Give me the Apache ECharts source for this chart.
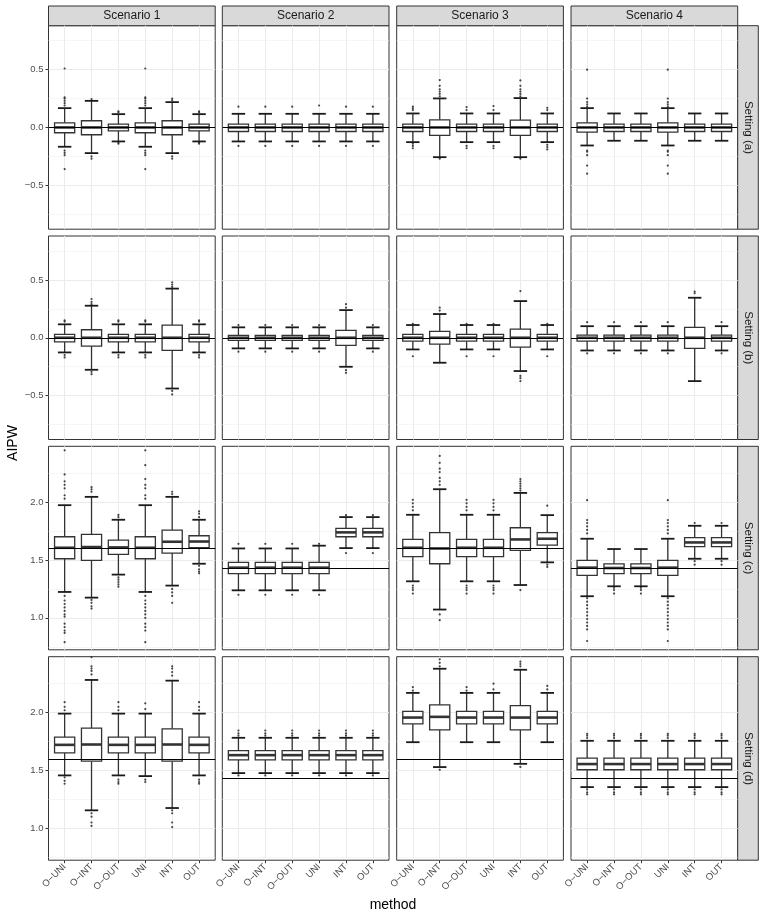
<!DOCTYPE html>
<html>
<head>
<meta charset="utf-8">
<script src="https://cdn.jsdelivr.net/npm/echarts@6/dist/echarts.min.js"></script>
<style>
html, body { margin: 0; padding: 0; background: #fff; }
#chart { width: 766px; height: 919px; }
</style>
</head>
<body>
<div id="chart"></div>
<script>
const scenarios = ['Scenario 1', 'Scenario 2', 'Scenario 3', 'Scenario 4']
const settings = ['Setting (a)', 'Setting (b)', 'Setting (c)', 'Setting (d)']
const methods = ['O\u2212UNI', 'O\u2212INT', 'O\u2212OUT', 'UNI', 'INT', 'OUT']
// true value per setting (row) and scenario (column)
const truth = [
  [0, 0, 0, 0],
  [0, 0, 0, 0],
  [1.6, 1.43, 1.6, 1.43],
  [1.6, 1.43, 1.6, 1.43]
]
const yTicksAB = [-0.5, 0, 0.5]
const yTicksCD = [1.0, 1.5, 2.0]

// [scenario][method] = [lower whisker, Q1, median, Q3, upper whisker]
const statsA = [
  [[-0.167, -0.046, 0, 0.040, 0.167], [-0.222, -0.063, 0, 0.058, 0.23], [-0.121, -0.029, 0, 0.029, 0.115],
   [-0.167, -0.046, 0, 0.040, 0.167], [-0.222, -0.063, 0, 0.058, 0.219], [-0.121, -0.029, 0, 0.029, 0.115]],
  [[-0.121, -0.035, 0, 0.029, 0.118], [-0.121, -0.035, 0, 0.029, 0.118], [-0.121, -0.035, 0, 0.029, 0.118],
   [-0.121, -0.035, 0, 0.029, 0.118], [-0.121, -0.035, 0, 0.029, 0.118], [-0.121, -0.035, 0, 0.029, 0.118]],
  [[-0.127, -0.035, 0, 0.029, 0.121], [-0.257, -0.069, 0, 0.066, 0.251], [-0.127, -0.035, 0, 0.029, 0.121],
   [-0.127, -0.035, 0, 0.029, 0.121], [-0.257, -0.069, 0, 0.064, 0.254], [-0.127, -0.035, 0, 0.029, 0.121]],
  [[-0.156, -0.040, 0, 0.040, 0.167], [-0.115, -0.035, 0, 0.029, 0.121], [-0.115, -0.035, 0, 0.029, 0.121],
   [-0.156, -0.040, 0, 0.040, 0.167], [-0.115, -0.035, 0, 0.029, 0.121], [-0.115, -0.035, 0, 0.029, 0.121]]
]
const outA = [
  [[0.19, 0.21, 0.23, 0.25, 0.26, 0.51, -0.2, -0.22, -0.24, -0.36], [0.245, -0.25, -0.27], [0.13, 0.14, -0.13, -0.14],
   [0.19, 0.21, 0.23, 0.25, 0.26, 0.51, -0.2, -0.22, -0.24, -0.36], [0.235, 0.25, -0.25, -0.27], [0.13, 0.14, -0.13, -0.14]],
  [[0.18, -0.16], [0.18, -0.16], [0.18, -0.16], [0.19, -0.16], [0.18, -0.16], [0.18, -0.16]],
  [[0.15, 0.165, 0.18, -0.14, -0.16, -0.18], [0.27, 0.29, 0.31, 0.33, 0.36, 0.41, -0.27], [0.15, 0.176, -0.16, -0.18],
   [0.15, 0.185, -0.16, -0.18], [0.27, 0.29, 0.31, 0.33, 0.36, 0.407, -0.27], [0.15, 0.17, -0.15, -0.17, -0.19]],
  [[0.18, 0.2, 0.22, 0.25, 0.5, -0.2, -0.21, -0.24, -0.33, -0.4], [], [],
   [0.18, 0.2, 0.22, 0.25, 0.5, -0.2, -0.21, -0.24, -0.33, -0.4], [], []]
]

const statsB = [
  [[-0.127, -0.035, 0, 0.029, 0.116], [-0.277, -0.072, 0, 0.069, 0.277], [-0.127, -0.035, 0, 0.029, 0.116],
   [-0.127, -0.035, 0, 0.029, 0.116], [-0.439, -0.11, 0, 0.11, 0.425], [-0.127, -0.035, 0, 0.029, 0.116]],
  [[-0.092, -0.023, 0, 0.02, 0.09], [-0.092, -0.023, 0, 0.02, 0.09], [-0.092, -0.023, 0, 0.02, 0.09],
   [-0.092, -0.023, 0, 0.02, 0.09], [-0.251, -0.066, 0, 0.063, 0.239], [-0.092, -0.023, 0, 0.02, 0.09]],
  [[-0.101, -0.029, 0, 0.029, 0.11], [-0.216, -0.055, 0, 0.055, 0.205], [-0.101, -0.029, 0, 0.029, 0.11],
   [-0.101, -0.029, 0, 0.029, 0.11], [-0.288, -0.081, 0, 0.075, 0.317], [-0.101, -0.029, 0, 0.029, 0.11]],
  [[-0.11, -0.029, 0, 0.023, 0.1], [-0.11, -0.029, 0, 0.023, 0.1], [-0.11, -0.029, 0, 0.023, 0.1],
   [-0.11, -0.029, 0, 0.023, 0.1], [-0.375, -0.092, 0, 0.089, 0.346], [-0.11, -0.029, 0, 0.023, 0.1]]
]
const outB = [
  [[0.14, 0.15, -0.15, -0.17], [0.29, 0.31, 0.335, -0.295, -0.315], [0.14, 0.15, -0.15, -0.17],
   [0.14, 0.15, -0.15, -0.17], [0.44, 0.46, 0.48, -0.46, -0.49], [0.14, 0.15, -0.15, -0.17]],
  [[0.11, -0.12], [0.11, -0.12], [0.11, -0.12], [0.11, -0.12], [0.26, 0.29, -0.28, -0.303], [0.11, -0.12]],
  [[0.12, -0.16], [0.235, 0.26], [0.12, -0.16], [0.12, -0.16], [0.404, -0.33, -0.35, -0.375], [0.12, -0.16]],
  [[0.135, -0.135], [0.135, -0.135], [0.135, -0.135], [0.135, -0.135], [0.385, 0.4], [0.135, -0.135]]
]

const statsC = [
  [[1.224, 1.511, 1.606, 1.701, 1.974], [1.175, 1.497, 1.612, 1.721, 2.046], [1.374, 1.549, 1.609, 1.672, 1.848],
   [1.224, 1.511, 1.606, 1.701, 1.974], [1.279, 1.56, 1.658, 1.759, 2.046], [1.468, 1.606, 1.66, 1.71, 1.848]],
  [[1.238, 1.382, 1.434, 1.48, 1.6], [1.238, 1.382, 1.434, 1.48, 1.6], [1.238, 1.382, 1.434, 1.48, 1.6],
   [1.238, 1.382, 1.434, 1.48, 1.624], [1.603, 1.701, 1.739, 1.773, 1.871], [1.603, 1.701, 1.739, 1.773, 1.871]],
  [[1.316, 1.529, 1.606, 1.678, 1.891], [1.072, 1.468, 1.6, 1.736, 2.112], [1.316, 1.529, 1.606, 1.678, 1.891],
   [1.316, 1.529, 1.606, 1.678, 1.891], [1.284, 1.583, 1.678, 1.779, 2.08], [1.48, 1.629, 1.684, 1.736, 1.888]],
  [[1.187, 1.368, 1.434, 1.497, 1.684], [1.273, 1.382, 1.431, 1.466, 1.595], [1.273, 1.382, 1.431, 1.466, 1.595],
   [1.187, 1.368, 1.434, 1.497, 1.684], [1.511, 1.615, 1.652, 1.693, 1.796], [1.511, 1.615, 1.652, 1.693, 1.796]]
]
const outC = [
  [[2.03, 2.06, 2.12, 2.15, 2.18, 2.24, 2.448, 1.19, 1.15, 1.12, 1.09, 1.06, 1.03, 1.01, 0.95, 0.92, 0.89, 0.87, 0.79],
   [2.09, 2.11, 2.13, 1.155, 1.13, 1.1, 1.08],
   [1.87, 1.89, 1.35, 1.33, 1.31, 1.29, 1.27],
   [2.03, 2.06, 2.12, 2.15, 2.2, 2.32, 2.448, 1.19, 1.15, 1.12, 1.09, 1.06, 1.03, 1.0, 0.95, 0.92, 0.89, 0.79],
   [2.07, 2.09, 1.25, 1.22, 1.19, 1.13],
   [1.87, 1.9, 1.92, 1.45, 1.42, 1.4, 1.385]],
  [[1.64, 1.2], [1.64, 1.2], [1.64, 1.2], [1.64, 1.2], [1.888, 1.56], [1.888, 1.56]],
  [[1.93, 1.96, 1.99, 2.02, 1.28, 1.26, 1.24, 1.21],
   [2.15, 2.18, 2.21, 2.26, 2.29, 2.34, 2.4, 1.03, 0.98],
   [1.93, 1.96, 1.99, 2.02, 1.28, 1.26, 1.24, 1.21],
   [1.93, 1.96, 1.99, 2.02, 1.28, 1.26, 1.24, 1.21],
   [2.1, 2.12, 2.14, 2.16, 2.18, 2.2, 1.24],
   [1.97, 1.46, 1.44]],
  [[1.73, 1.76, 1.79, 1.82, 1.845, 2.017, 1.17, 1.14, 1.11, 1.08, 1.05, 1.02, 0.99, 0.96, 0.93, 0.9, 0.8],
   [1.26, 1.24, 1.21], [1.26, 1.24, 1.21],
   [1.73, 1.76, 1.79, 1.82, 1.845, 2.017, 1.17, 1.14, 1.11, 1.08, 1.05, 1.02, 0.99, 0.96, 0.93, 0.9, 0.8],
   [1.82, 1.49, 1.46], [1.82, 1.49, 1.46]]
]

const statsD = [
  [[1.457, 1.652, 1.721, 1.787, 1.991], [1.155, 1.58, 1.724, 1.865, 2.282], [1.457, 1.652, 1.721, 1.787, 1.991],
   [1.451, 1.652, 1.721, 1.787, 1.991], [1.175, 1.58, 1.724, 1.86, 2.276], [1.457, 1.652, 1.721, 1.787, 1.991]],
  [[1.477, 1.592, 1.632, 1.672, 1.782], [1.477, 1.592, 1.632, 1.672, 1.782], [1.477, 1.592, 1.632, 1.672, 1.782],
   [1.477, 1.592, 1.632, 1.672, 1.782], [1.477, 1.592, 1.632, 1.672, 1.782], [1.477, 1.592, 1.632, 1.672, 1.782]],
  [[1.744, 1.902, 1.957, 2.011, 2.17], [1.529, 1.851, 1.963, 2.066, 2.379], [1.744, 1.902, 1.957, 2.011, 2.17],
   [1.744, 1.902, 1.957, 2.011, 2.17], [1.557, 1.851, 1.957, 2.06, 2.37], [1.744, 1.902, 1.957, 2.011, 2.17]],
  [[1.356, 1.506, 1.555, 1.606, 1.756], [1.356, 1.506, 1.555, 1.606, 1.756], [1.356, 1.506, 1.555, 1.606, 1.756],
   [1.356, 1.506, 1.555, 1.606, 1.756], [1.356, 1.506, 1.555, 1.606, 1.756], [1.356, 1.506, 1.555, 1.606, 1.756]]
]
const outD = [
  [[2.02, 2.05, 2.09, 1.44, 1.41, 1.385], [2.33, 2.36, 2.38, 2.4, 2.48, 1.13, 1.1, 1.05, 1.02],
   [2.02, 2.05, 2.09, 1.42, 1.4, 1.385], [2.03, 2.08, 1.42, 1.4],
   [2.32, 2.35, 2.38, 2.4, 1.155, 1.13, 1.05, 1.01], [2.02, 2.05, 2.09, 1.42, 1.4, 1.385]],
  [[1.8, 1.82, 1.845, 1.457], [1.8, 1.82, 1.845, 1.457], [1.8, 1.82, 1.845, 1.457],
   [1.8, 1.82, 1.845, 1.457], [1.8, 1.82, 1.845, 1.457], [1.8, 1.82, 1.845, 1.457]],
  [[2.19, 2.22], [2.4, 2.43, 2.46, 1.506], [2.19, 2.22], [2.2, 2.25], [2.4, 2.42, 2.44, 1.53], [2.2, 2.23]],
  [[1.78, 1.8, 1.816, 1.336, 1.31, 1.293], [1.78, 1.8, 1.816, 1.336, 1.31, 1.293], [1.78, 1.8, 1.816, 1.336, 1.31, 1.293],
   [1.78, 1.8, 1.816, 1.336, 1.31, 1.293], [1.78, 1.8, 1.816, 1.336, 1.31, 1.293], [1.78, 1.8, 1.816, 1.336, 1.31, 1.293]]
]

const allStats = [statsA, statsB, statsC, statsD]
const allOut = [outA, outB, outC, outD]

// panel layout
const colLeft = [48.5, 222.3, 396.7, 571]
const rowTop = [25.7, 236, 446.3, 656.7]
const panelW = 166.7
const panelH = 203.5
const font = "'Liberation Sans', Arial, Helvetica, sans-serif"

function fmt(v) {
  return v < 0 ? '\u2212' + Math.abs(v).toFixed(1) : v.toFixed(1)
}

function renderBox(params, api) {
  const x = api.value(0)
  const lo = api.value(1), q1 = api.value(2), md = api.value(3), q3 = api.value(4), hi = api.value(5)
  const tl = api.coord([x - 0.375, q3])
  const br = api.coord([x + 0.375, q1])
  const cl = api.coord([x - 0.25, hi])[0]
  const cr = api.coord([x + 0.25, hi])[0]
  const cx = api.coord([x, md])[0]
  const yHi = api.coord([x, hi])[1]
  const yLo = api.coord([x, lo])[1]
  const yMd = api.coord([x, md])[1]
  const stroke = '#333333'
  return {
    type: 'group',
    children: [
      { type: 'line', shape: { x1: cx, y1: yHi, x2: cx, y2: tl[1] }, style: { stroke, lineWidth: 1.3 } },
      { type: 'line', shape: { x1: cx, y1: br[1], x2: cx, y2: yLo }, style: { stroke, lineWidth: 1.3 } },
      { type: 'line', shape: { x1: cl, y1: yHi, x2: cr, y2: yHi }, style: { stroke: '#1a1a1a', lineWidth: 1.8 } },
      { type: 'line', shape: { x1: cl, y1: yLo, x2: cr, y2: yLo }, style: { stroke: '#1a1a1a', lineWidth: 1.8 } },
      { type: 'rect', shape: { x: tl[0], y: tl[1], width: br[0] - tl[0], height: br[1] - tl[1] }, style: { fill: '#ffffff', stroke, lineWidth: 1.3 } },
      { type: 'line', shape: { x1: tl[0], y1: yMd, x2: br[0], y2: yMd }, style: { stroke, lineWidth: 2.6 } }
    ]
  }
}

const grids = []
const xAxes = []
const yAxes = []
const series = []
const graphics = []
const xTicks = methods.map((m, i) => i + 1)

for (let r = 0; r < 4; r++) {
  const lowRows = r < 2
  for (let c = 0; c < 4; c++) {
    const idx = r * 4 + c
    grids.push({
      left: colLeft[c], top: rowTop[r], width: panelW, height: panelH,
      show: true, borderColor: '#333333', borderWidth: 1, backgroundColor: '#ffffff',
      containLabel: false, outerBoundsMode: 'none'
    })
    xAxes.push({
      type: 'value', gridIndex: idx, min: 0.4, max: 6.6, minInterval: 1, maxInterval: 1,
      axisLine: { show: false },
      axisTick: { show: r === 3, length: 3, customValues: xTicks, lineStyle: { color: '#333333' } },
      axisLabel: {
        show: r === 3, customValues: xTicks, rotate: 45, margin: 5,
        color: '#4d4d4d', fontSize: 9.5, fontFamily: font,
        formatter: v => methods[Math.round(v) - 1]
      },
      splitLine: { show: true, lineStyle: { color: '#ebebeb', width: 1 } }
    })
    yAxes.push({
      type: 'value', gridIndex: idx,
      min: lowRows ? -0.88 : 0.724, max: lowRows ? 0.88 : 2.483,
      minInterval: 0.5, maxInterval: 0.5,
      axisLine: { show: false },
      axisTick: { show: c === 0, length: 3, customValues: lowRows ? yTicksAB : yTicksCD, lineStyle: { color: '#333333' } },
      axisLabel: {
        show: c === 0, customValues: lowRows ? yTicksAB : yTicksCD, margin: 5,
        color: '#4d4d4d', fontSize: 9.5, fontFamily: font, formatter: fmt
      },
      splitLine: { show: true, lineStyle: { color: '#ebebeb', width: 1 } },
      minorTick: { show: false, splitNumber: 2 },
      minorSplitLine: { show: true, lineStyle: { color: '#f0f0f0', width: 0.6 } }
    })

    const boxData = allStats[r][c].map((s, m) => [m + 1].concat(s))
    series.push({
      type: 'custom', xAxisIndex: idx, yAxisIndex: idx, silent: true, z: 2,
      renderItem: renderBox,
      encode: { x: 0, y: [1, 2, 3, 4, 5] },
      data: boxData
    })
    const pts = []
    allOut[r][c].forEach((vals, m) => vals.forEach(v => pts.push([m + 1, v])))
    series.push({
      type: 'scatter', xAxisIndex: idx, yAxisIndex: idx, silent: true, z: 3,
      symbol: 'circle', symbolSize: 2.2,
      itemStyle: { color: '#1a1a1a' },
      data: pts,
      markLine: {
        silent: true, symbol: 'none', label: { show: false },
        lineStyle: { color: '#000000', type: 'solid', width: 1.1 },
        data: [{ yAxis: truth[r][c] }]
      }
    })
  }
}

// facet strips
for (let c = 0; c < 4; c++) {
  graphics.push({
    type: 'rect', shape: { x: colLeft[c], y: 6, width: panelW, height: 19.7 },
    style: { fill: '#d9d9d9', stroke: '#333333', lineWidth: 1 }
  })
  graphics.push({
    type: 'text', x: colLeft[c] + panelW / 2, y: 16,
    style: { text: scenarios[c], fill: '#1a1a1a', font: '12px ' + font, textAlign: 'center', textVerticalAlign: 'middle', align: 'center', verticalAlign: 'middle' }
  })
}
for (let r = 0; r < 4; r++) {
  graphics.push({
    type: 'rect', shape: { x: colLeft[3] + panelW, y: rowTop[r], width: 20.6, height: panelH },
    style: { fill: '#d9d9d9', stroke: '#333333', lineWidth: 1 }
  })
  graphics.push({
    type: 'text', x: colLeft[3] + panelW + 10.5, y: rowTop[r] + panelH / 2, rotation: -Math.PI / 2,
    style: { text: settings[r], fill: '#1a1a1a', font: '11.5px ' + font, textAlign: 'center', textVerticalAlign: 'middle', align: 'center', verticalAlign: 'middle' }
  })
}
// axis titles
graphics.push({
  type: 'text', x: 13, y: 443, rotation: Math.PI / 2,
  style: { text: 'AIPW', fill: '#000000', font: '14px ' + font, textAlign: 'center', textVerticalAlign: 'middle', align: 'center', verticalAlign: 'middle' }
})
graphics.push({
  type: 'text', x: 393, y: 905,
  style: { text: 'method', fill: '#000000', font: '14px ' + font, textAlign: 'center', textVerticalAlign: 'middle', align: 'center', verticalAlign: 'middle' }
})

const chart = echarts.init(document.getElementById('chart'), null, { renderer: 'canvas' })
chart.setOption({
  animation: false,
  backgroundColor: '#ffffff',
  grid: grids,
  xAxis: xAxes,
  yAxis: yAxes,
  series: series,
  graphic: graphics
})
</script>
</body>
</html>
